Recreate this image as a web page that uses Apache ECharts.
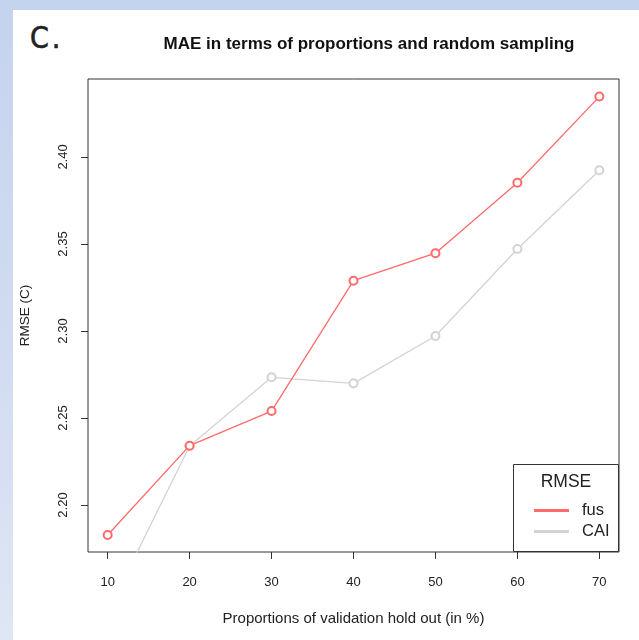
<!DOCTYPE html>
<html>
<head>
<meta charset="utf-8">
<script src="https://cdn.jsdelivr.net/npm/echarts@6/dist/echarts.min.js"></script>
<style>
html,body{margin:0;padding:0;width:639px;height:640px;overflow:hidden;}
body{background:linear-gradient(to bottom,#c4d3ee 0%,#d3ddf1 60%,#dfe6f5 100%);position:relative;}
#panel{position:absolute;left:13px;top:10px;width:626px;height:630px;background:#ffffff;}
#panelLabel{position:absolute;left:30px;top:23px;font-family:"DejaVu Sans Condensed","DejaVu Sans";font-size:30px;line-height:30px;color:#222;letter-spacing:3px;-webkit-text-stroke:0.6px #222;}
#chart{position:absolute;left:0;top:0;width:639px;height:640px;}
</style>
</head>
<body>
<div id="panel"></div>
<div id="panelLabel">C.</div>
<div id="chart"></div>
<script>
const proportions = [10, 20, 30, 40, 50, 60, 70];
const fusValues = [2.1828, 2.2341, 2.2540, 2.3289, 2.3447, 2.3852, 2.4347];
const caiValues = [2.1386, 2.2339, 2.2734, 2.2699, 2.2971, 2.3471, 2.3924];
const xTicks = [10, 20, 30, 40, 50, 60, 70];
const yTicks = [2.20, 2.25, 2.30, 2.35, 2.40];
const seriesNames = ['fus', 'CAI'];

const FONT = '"Liberation Sans", Arial, sans-serif';
const RED = '#ff6a6a';
const GRAY = '#d3d3d3';

const chart = echarts.init(document.getElementById('chart'), null, {renderer: 'canvas'});

function pairs(xs, ys) { return xs.map((x, i) => [x, ys[i]]); }

chart.setOption({
  backgroundColor: 'transparent',
  animation: false,
  title: {
    text: 'MAE in terms of proportions and random sampling',
    left: 364, top: 31, textAlign: 'center',
    textStyle: {fontFamily: FONT, fontSize: 17, fontWeight: 'bold', color: '#111'}
  },
  grid: {left: 88, right: 20, top: 79, bottom: 88, show: true, borderColor: '#333', borderWidth: 1, backgroundColor: 'transparent'},
  xAxis: {
    type: 'value', min: 7.6, max: 72.4,
    name: 'Proportions of validation hold out (in %)',
    nameLocation: 'middle', nameGap: 59,
    nameTextStyle: {fontFamily: FONT, fontSize: 15, color: '#222'},
    axisLine: {show: false},
    splitLine: {show: false},
    axisTick: {show: true, length: 7, lineStyle: {color: '#333'}, customValues: xTicks},
    axisLabel: {fontFamily: FONT, fontSize: 13, color: '#222', margin: 24, customValues: xTicks}
  },
  yAxis: {
    type: 'value', min: 2.173, max: 2.4448,
    name: 'RMSE (C)',
    nameLocation: 'middle', nameGap: 56, nameRotate: 90,
    nameTextStyle: {fontFamily: FONT, fontSize: 13.5, color: '#222'},
    axisLine: {show: false},
    splitLine: {show: false},
    axisTick: {show: true, length: 7, lineStyle: {color: '#333'}, customValues: yTicks},
    axisLabel: {fontFamily: FONT, fontSize: 13, color: '#222', margin: 18, rotate: 90,
      customValues: yTicks, formatter: v => v.toFixed(2)}
  },
  legend: {
    z: 20, left: 529, top: 497, orient: 'vertical',
    itemWidth: 33, itemHeight: 1, itemGap: 4, icon: 'rect',
    textStyle: {fontFamily: FONT, fontSize: 16.5, color: '#222', padding: [0, 0, 0, 9], lineHeight: 17},
    data: [
      {name: seriesNames[0], itemStyle: {color: RED}},
      {name: seriesNames[1], itemStyle: {color: GRAY}}
    ]
  },
  graphic: [
    {type: 'rect', z: 5, shape: {x: 513.5, y: 464.5, width: 105, height: 87},
      style: {fill: '#fff', stroke: '#333', lineWidth: 1}},
    {type: 'text', z: 21, x: 566, y: 473,
      style: {text: 'RMSE', font: '17.5px ' + FONT, fill: '#222', textAlign: 'center'}}
  ],
  series: [
    {
      name: seriesNames[0], type: 'line', data: pairs(proportions, fusValues),
      color: RED, symbol: 'emptyCircle', symbolSize: 8, clip: true,
      lineStyle: {color: RED, width: 1.3},
      itemStyle: {color: RED, borderColor: RED, borderWidth: 1.4}
    },
    {
      name: seriesNames[1], type: 'line', data: pairs(proportions, caiValues),
      color: GRAY, symbol: 'emptyCircle', symbolSize: 8, clip: true, z: 1,
      lineStyle: {color: GRAY, width: 1.3},
      itemStyle: {color: GRAY, borderColor: GRAY, borderWidth: 1.4}
    }
  ]
});
</script>
</body>
</html>
